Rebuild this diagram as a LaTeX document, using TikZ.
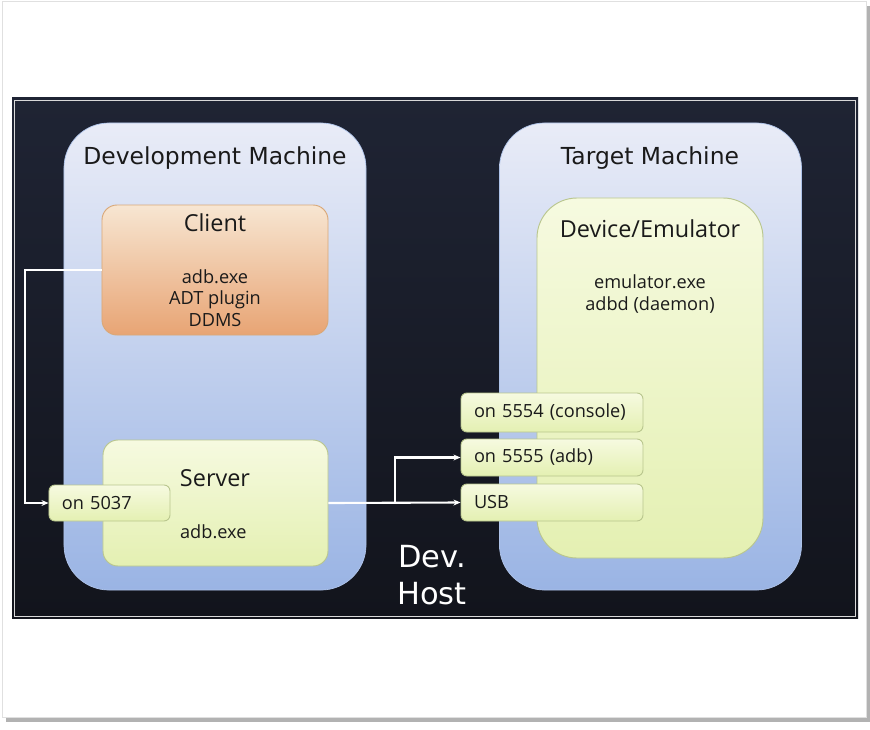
\documentclass[tikz,border=0pt]{standalone}
\usepackage{fontspec}
\setmainfont{Open Sans}
\newfontfamily\titlefont{DejaVu Sans}
\usetikzlibrary{arrows.meta,positioning}

\definecolor{panelbg}{HTML}{1F2434}
\definecolor{paneldk}{HTML}{12141C}
\definecolor{machtop}{HTML}{E9ECF7}
\definecolor{machbot}{HTML}{9AB4E4}
\definecolor{clitop}{HTML}{F7E6D2}
\definecolor{clibot}{HTML}{E8A474}
\definecolor{cliedge}{HTML}{D9A878}
\definecolor{grntop}{HTML}{F6FAE0}
\definecolor{grnbot}{HTML}{E4F0B2}
\definecolor{grnedge}{HTML}{B9C68E}
\definecolor{txt}{HTML}{1A1A1A}

\begin{document}
\begin{tikzpicture}[x=0.03cm,y=-0.03cm,>={Stealth[length=6pt,width=5pt]},
  machine/.style={rounded corners=1.35cm, top color=machtop, bottom color=machbot,
    draw=machbot!80!white, line width=0.6pt, minimum width=9.06cm, minimum height=14.01cm},
  clientbox/.style={rounded corners=0.45cm, top color=clitop, bottom color=clibot,
    draw=cliedge, line width=0.8pt, minimum width=6.78cm, minimum height=3.9cm},
  greenbox/.style={top color=grntop, bottom color=grnbot, draw=grnedge, line width=0.8pt},
  portbox/.style={greenbox, rounded corners=0.18cm, text width=4.68cm, inner xsep=0.39cm,
    minimum height=1.11cm, align=left, font=\fontsize{15.5}{18}\selectfont, text=txt},
  conn/.style={->, draw=white, line width=1.8pt},
  title/.style={font=\titlefont\fontsize{20}{24}\selectfont, text=txt},
  small/.style={font=\fontsize{15.5}{18.5}\selectfont, text=txt, align=center}]

% card and shadow
\useasboundingbox (0,0) rectangle (870,729);
\fill[black!30] (6,6) rectangle (870,722);
\filldraw[fill=white, draw=black!12] (2,1) rectangle (866,717);

% dark panel
\shade[top color=panelbg, bottom color=paneldk] (12,97) rectangle (858,618);
\draw[white!85!black, line width=0.6pt] (14,100) rectangle (855,616);

% machines
\node[machine] (devm) at (215,356.5) {};
\node[machine] (tgtm) at (650.5,356.5) {};
\node[title] (devtitle) at (215,158) {Development Machine};
\node[title] (tgttitle) at (650,158) {Target Machine};

% client
\node[clientbox] (client) at (215,270) {};
\node[small, font=\fontsize{20}{24}\selectfont] (clitxt) at (215,223) {Client};
\node[small] (clitools) at (215,298) {adb.exe\\ADT plugin\\DDMS};

% server
\node[greenbox, rounded corners=0.45cm, minimum width=6.75cm, minimum height=3.78cm] (server) at (215.5,503) {};
\node[small, font=\fontsize{20}{24}\selectfont] (srvtxt) at (215,478) {Server};
\node[small, anchor=west] (srvtool) at (176,532) {adb.exe};
\node[portbox, text width=2.85cm, minimum height=1.08cm] (p5037) at (109.5,503) {on 5037};

% device
\node[greenbox, rounded corners=1.2cm, minimum width=6.78cm, minimum height=10.8cm] (device) at (650,378) {};
\node[small, font=\fontsize{20}{24}\selectfont] (devtxt) at (650,229) {Device/Emulator};
\node[small] (devtools) at (650,294) {emulator.exe\\adbd (daemon)};

% ports
\node[portbox, minimum height=1.17cm] (p5554) at (552,412.5) {on 5554 (console)};
\node[portbox] (p5555) at (552,457.5) {on 5555 (adb)};
\node[portbox] (usb) at (552,502.5) {USB};

% connectors
\coordinate (lft) at (25,270);
\coordinate (split) at (395,503);
\draw[conn] (client.west) -- (lft) |- (p5037.west);
\draw[conn] (server.east) -- (usb.west);
\draw[conn] (split) |- (p5555.west);

\node[font=\titlefont\fontsize{26}{31}\selectfont, text=white, align=center] (host) at (432,575) {Dev.\\Host};
\end{tikzpicture}
\end{document}
